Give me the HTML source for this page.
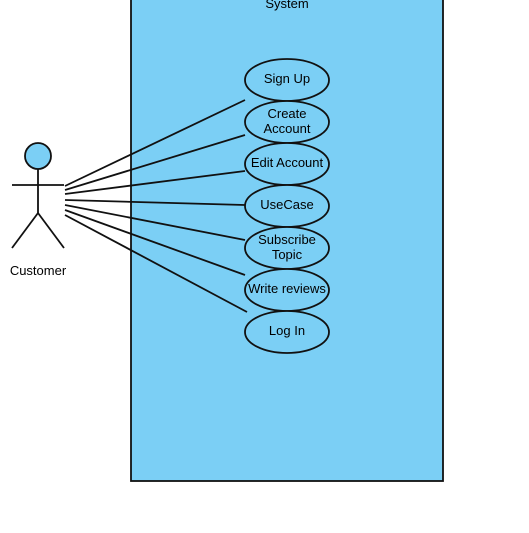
<!DOCTYPE html>
<html><head><style>html,body{margin:0;padding:0;background:#fff}svg{display:block}</style></head><body>
<svg width="529" height="533" xmlns="http://www.w3.org/2000/svg" font-family="Liberation Sans, Arial, sans-serif" font-size="13">
<rect x="131" y="-5" width="312" height="486" fill="#7bcff5" stroke="#111" stroke-width="1.8"/>
<text x="287" y="8" text-anchor="middle">System</text>
<g stroke="#111" stroke-width="1.8" fill="none">
<line x1="65" y1="186" x2="245" y2="100"/>
<line x1="65" y1="190" x2="245" y2="135"/>
<line x1="65" y1="194" x2="245" y2="171"/>
<line x1="65" y1="200" x2="245" y2="205"/>
<line x1="65" y1="205" x2="245" y2="240"/>
<line x1="65" y1="210" x2="245" y2="275"/>
<line x1="65" y1="215" x2="247" y2="312"/>
<line x1="12" y1="185" x2="64" y2="185"/>
<line x1="38" y1="169" x2="38" y2="213"/>
<line x1="38" y1="213" x2="12" y2="248"/>
<line x1="38" y1="213" x2="64" y2="248"/>
</g>
<circle cx="38" cy="156" r="13" fill="#7bcff5" stroke="#111" stroke-width="1.8"/>
<text x="38" y="275" text-anchor="middle">Customer</text>
<g fill="#7bcff5" stroke="#111" stroke-width="1.8">
<ellipse cx="287" cy="80" rx="42" ry="21"/>
<ellipse cx="287" cy="122" rx="42" ry="21"/>
<ellipse cx="287" cy="164" rx="42" ry="21"/>
<ellipse cx="287" cy="206" rx="42" ry="21"/>
<ellipse cx="287" cy="248" rx="42" ry="21"/>
<ellipse cx="287" cy="290" rx="42" ry="21"/>
<ellipse cx="287" cy="332" rx="42" ry="21"/>
</g>
<g text-anchor="middle">
<text x="287" y="83">Sign Up</text>
<text x="287" y="118">Create</text>
<text x="287" y="133">Account</text>
<text x="287" y="167">Edit Account</text>
<text x="287" y="209">UseCase</text>
<text x="287" y="244">Subscribe</text>
<text x="287" y="259">Topic</text>
<text x="287" y="293">Write reviews</text>
<text x="287" y="335">Log In</text>
</g>
</svg>
</body></html>
